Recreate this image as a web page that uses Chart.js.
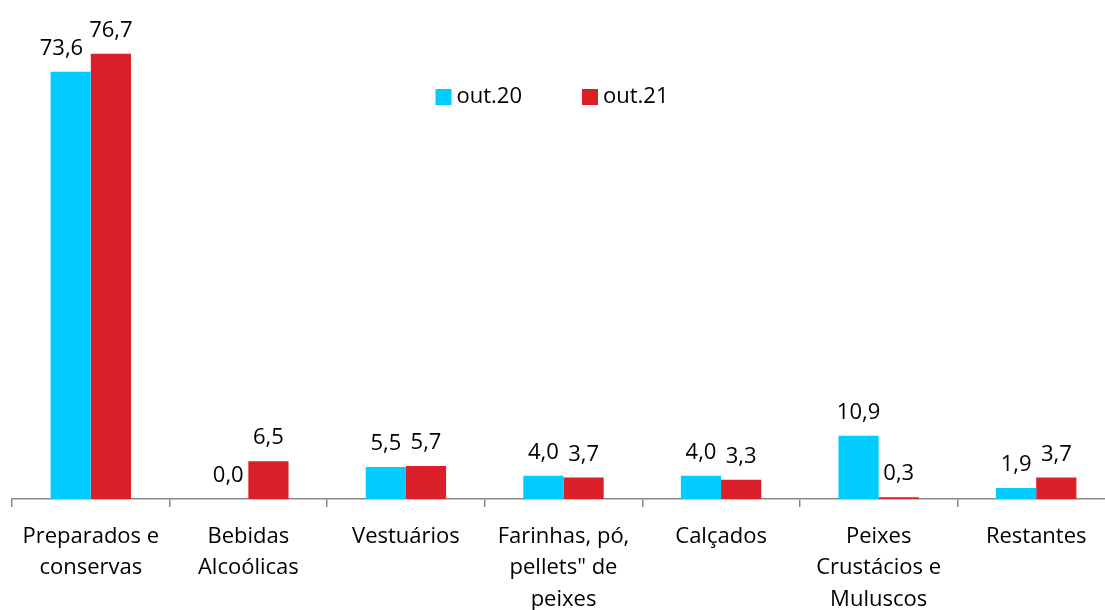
<!DOCTYPE html>
<html>
<head>
<meta charset="utf-8">
<script src="https://cdn.jsdelivr.net/npm/chart.js@4"></script>
<style>
html,body{margin:0;padding:0;background:#fff;overflow:hidden;}
#wrap{width:1105px;height:610px;overflow:hidden;}
</style>
</head>
<body>
<div id="wrap"><canvas id="c" width="1115" height="610"></canvas></div>
<script>
const categories = [
  ["Preparados e", "conservas"],
  ["Bebidas", "Alcoólicas"],
  ["Vestuários"],
  ["Farinhas, pó,", "pellets\" de", "peixes"],
  ["Calçados"],
  ["Peixes", "Crustácios e", "Muluscos"],
  ["Restantes"]
];
const seriesNames = ["out.20", "out.21"];
const out20 = [73.6, 0.0, 5.5, 4.0, 4.0, 10.9, 1.9];
const out21 = [76.7, 6.5, 5.7, 3.7, 3.3, 0.3, 3.7];
const colors = ["#00CCFF", "#DA1F28"];

const FONT = "'Open Sans', sans-serif";
const FSIZE = 22;

const labelPlugin = {
  id: 'valueLabels',
  afterDatasetsDraw(chart) {
    const ctx = chart.ctx;
    ctx.save();
    ctx.font = FSIZE + "px " + FONT;
    ctx.fillStyle = "#000";
    ctx.textBaseline = "alphabetic";
    ctx.textAlign = "left";
    const m0 = chart.getDatasetMeta(0), m1 = chart.getDatasetMeta(1);
    const d0 = chart.data.datasets[0].data, d1 = chart.data.datasets[1].data;
    const fmt = v => v.toFixed(1).replace('.', ',');
    for (let i = 0; i < d0.length; i++) {
      const e0 = m0.data[i], e1 = m1.data[i];
      const t0 = fmt(d0[i]), t1 = fmt(d1[i]);
      const w0 = ctx.measureText(t0).width, w1 = ctx.measureText(t1).width;
      let x0 = e0.x - w0 / 2, x1 = e1.x - w1 / 2;
      const y0 = e0.y - 17, y1 = e1.y - 17;
      if (Math.abs(y0 - y1) < 22 && x0 + w0 > x1 - 6) {
        x0 = x1 - 6 - w0;
      }
      ctx.fillText(t0, x0, y0);
      ctx.fillText(t1, x1, y1);
    }
    ctx.restore();
  }
};

const legendPlugin = {
  id: 'insideLegend',
  afterDraw(chart) {
    const ctx = chart.ctx;
    ctx.save();
    ctx.font = FSIZE + "px " + FONT;
    ctx.textBaseline = "middle";
    ctx.textAlign = "left";
    const ds = chart.data.datasets;
    const box = 16, gap = 5, spacing = 60;
    const widths = ds.map(d => box + gap + ctx.measureText(d.label).width);
    const total = widths.reduce((a, b) => a + b, 0) + spacing * (ds.length - 1);
    let x = 552 - total / 2;
    const cy = 97;
    ds.forEach((d, i) => {
      ctx.fillStyle = d.backgroundColor;
      ctx.fillRect(x, cy - box / 2, box, box);
      ctx.fillStyle = "#000";
      ctx.fillText(d.label, x + box + gap, cy);
      x += widths[i] + spacing;
    });
    ctx.restore();
  }
};

new Chart(document.getElementById('c'), {
  type: 'bar',
  data: {
    labels: categories,
    datasets: [
      { label: seriesNames[0], data: out20, backgroundColor: colors[0], borderWidth: 0 },
      { label: seriesNames[1], data: out21, backgroundColor: colors[1], borderWidth: 0 }
    ]
  },
  options: {
    responsive: false,
    animation: false,
    devicePixelRatio: 1,
    layout: { padding: { top: 23, left: 12, right: 0, bottom: 0 } },
    datasets: { bar: { categoryPercentage: 0.51, barPercentage: 1.0 } },
    plugins: {
      legend: { display: false },
      tooltip: { enabled: false }
    },
    scales: {
      x: {
        offset: true,
        grid: { offset: true, drawOnChartArea: false, drawTicks: true, tickLength: 8, color: '#898989', lineWidth: 1.5 },
        border: { display: true, color: '#898989', width: 1.5 },
        ticks: {
          color: '#000', padding: 14, maxRotation: 0, autoSkip: false,
          font: { family: FONT, size: FSIZE, lineHeight: 1.43 }
        },
        afterFit(scale) { scale.height = 111; }
      },
      y: {
        display: false,
        min: 0, max: 82
      }
    }
  },
  plugins: [labelPlugin, legendPlugin]
});
</script>
</body>
</html>
